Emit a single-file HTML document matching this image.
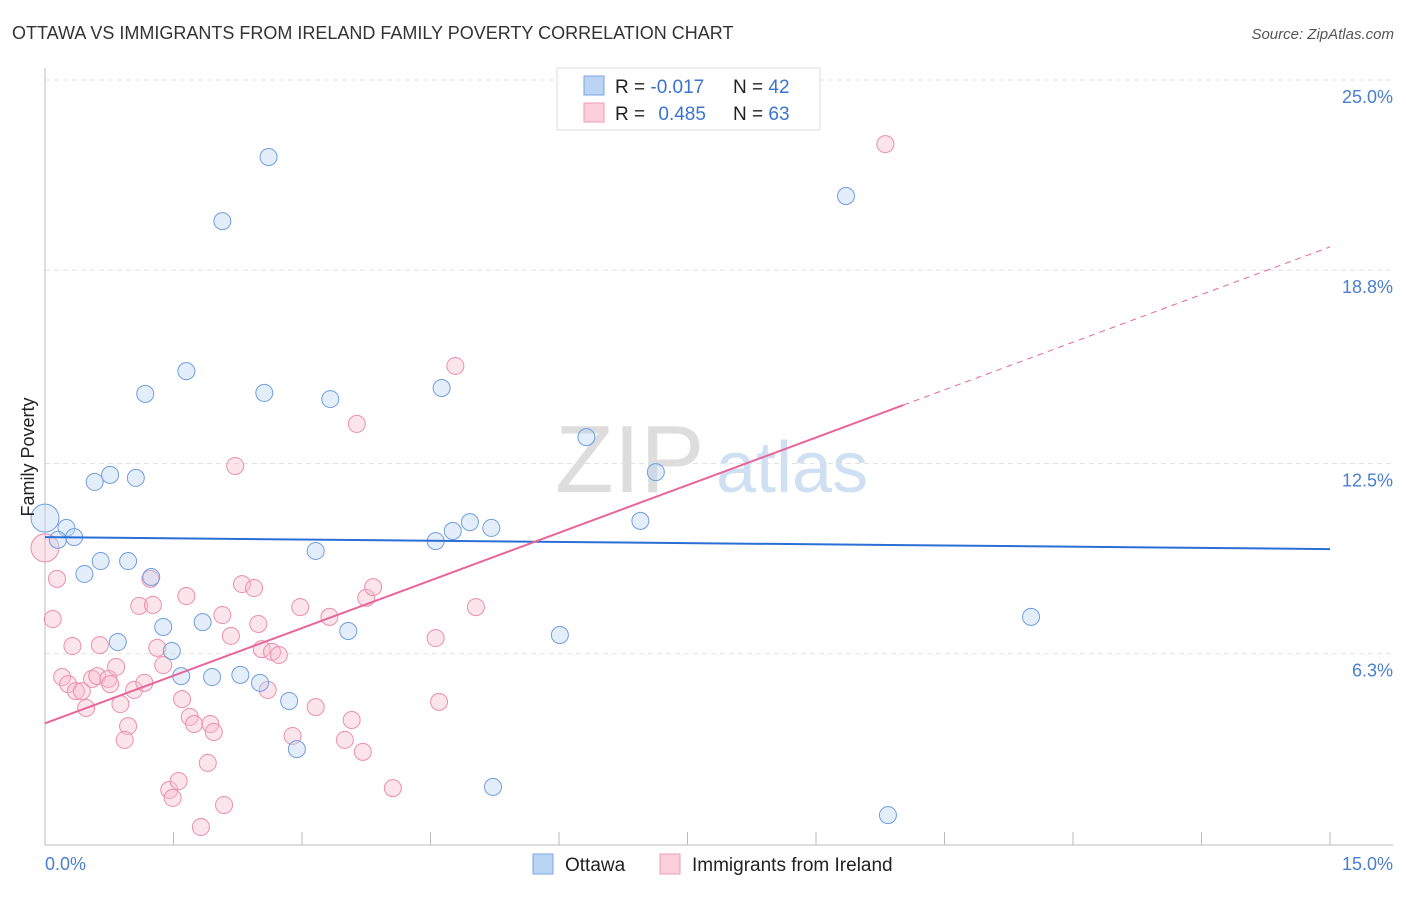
<!DOCTYPE html>
<html><head><meta charset="utf-8"><style>
body{margin:0;background:#fff;font-family:"Liberation Sans",sans-serif}
svg text{font-family:"Liberation Sans",sans-serif}
</style></head><body>
<svg width="1406" height="892" viewBox="0 0 1406 892">
<text x="12" y="39" font-size="18" fill="#333">OTTAWA VS IMMIGRANTS FROM IRELAND FAMILY POVERTY CORRELATION CHART</text>
<text x="1394" y="39" font-size="15" fill="#555" font-style="italic" text-anchor="end">Source: ZipAtlas.com</text>
<text x="555" y="492" font-size="96" fill="#ddd" font-family="Liberation Serif">ZIP</text>
<text x="716" y="492" font-size="72" fill="#cfe0f3">atlas</text>
<g id="grid"></g>
<g id="axes"></g>
<g id="marks"></g>
<text transform="translate(34,457) rotate(-90)" font-size="18" fill="#222" text-anchor="middle">Family Poverty</text>
<text x="45" y="870" font-size="18" fill="#4a7fd0">0.0%</text>
<text x="1393" y="870" font-size="18" fill="#4a7fd0" text-anchor="end">15.0%</text>
<g>
<rect x="557" y="68" width="263" height="62" fill="#fff" stroke="#ddd"/>
<rect x="584" y="76" width="20" height="19" fill="#bcd4f4" stroke="#7aa6e6"/>
<rect x="584" y="103" width="20" height="19" fill="#fbcfdc" stroke="#f09ab5"/>
<text x="615" y="93" font-size="19" fill="#222">R = <tspan fill="#3a74d0">-0.017</tspan></text>
<text x="733" y="93" font-size="19" fill="#222">N = <tspan fill="#3a74d0">42</tspan></text>
<text x="615" y="120" font-size="19" fill="#222">R = <tspan fill="#3a74d0" dx="8">0.485</tspan></text>
<text x="733" y="120" font-size="19" fill="#222">N = <tspan fill="#3a74d0">63</tspan></text>
</g>
<g>
<rect x="533" y="854" width="20" height="20" fill="#bcd4f4" stroke="#7aa6e6"/>
<text x="565" y="871" font-size="19" fill="#222">Ottawa</text>
<rect x="660" y="854" width="20" height="20" fill="#fbcfdc" stroke="#f09ab5"/>
<text x="692" y="871" font-size="19" fill="#222">Immigrants from Ireland</text>
</g>
</svg>
<script>
const yTicks=[25.0,18.8,12.5,6.3];
const yTickLabels=["25.0%","18.8%","12.5%","6.3%"];
const blueX=[0,0.25,0.15,0.34,0.58,0.76,1.06,1.17,1.65,2.07,2.61,2.56,3.33,4.63,6.32,7.13,9.35,0.46,0.65,0.97,1.24,1.38,1.48,0.85,1.59,1.84,1.95,2.28,2.51,2.85,2.94,3.16,3.54,4.56,4.76,4.96,5.21,6.01,6.95,11.51,9.84,5.23];
const blueY=[10.72,10.40,10.01,10.10,11.90,12.13,12.03,14.77,15.51,20.40,22.49,14.80,14.60,14.96,13.36,12.22,21.22,8.90,9.32,9.32,8.80,7.17,6.39,6.68,5.57,7.33,5.54,5.61,5.35,4.76,3.19,9.65,7.04,9.97,10.30,10.59,10.40,6.91,10.63,7.50,1.04,1.96];
const pinkX=[0,0.14,0.09,0.32,0.20,0.27,0.36,0.43,0.48,0.55,0.61,0.64,0.74,0.76,0.83,0.88,0.97,0.93,1.04,1.10,1.16,1.23,1.26,1.31,1.38,1.60,1.65,1.69,1.74,1.45,1.49,1.56,1.82,1.90,1.93,1.97,2.07,2.09,2.17,2.22,2.30,2.44,2.49,2.53,2.60,2.65,2.73,2.89,2.98,3.16,3.32,3.50,3.58,3.64,3.71,3.75,3.83,4.06,4.56,4.60,4.79,5.03,9.81];
const pinkY=[9.75,8.74,7.43,6.55,5.54,5.31,5.08,5.08,4.53,5.48,5.57,6.58,5.48,5.31,5.87,4.66,3.94,3.49,5.12,7.86,5.35,8.74,7.89,6.49,5.93,4.82,8.18,4.24,4.01,1.86,1.60,2.15,0.65,2.74,4.01,3.75,7.56,1.37,6.88,12.42,8.57,8.44,7.27,6.45,5.12,6.36,6.26,3.62,7.82,4.56,7.50,3.49,4.14,13.79,3.10,8.12,8.47,1.92,6.81,4.73,15.68,7.82,22.91];
const blueTrend=[10.10,9.71];
const pinkTrend=[4.03,19.56];
const pinkSolidEnd=10.02;
const NS='http://www.w3.org/2000/svg';
const sx=v=>45+v*1285/15;
const sy=v=>847-v*30.68;
function mk(t,a,p){const e=document.createElementNS(NS,t);for(const k in a)e.setAttribute(k,a[k]);p.appendChild(e);return e;}
const grid=document.getElementById('grid'),axes=document.getElementById('axes'),marks=document.getElementById('marks');
yTicks.forEach((v,i)=>{
 const l=mk('line',{x1:45,x2:1393,y1:sy(v),y2:sy(v),stroke:'#e2e2e2','stroke-dasharray':'5,4'},grid);
 
 
 const t=mk('text',{x:1393,y:sy(v)+23,'font-size':18,fill:'#4a7fd0','text-anchor':'end'},grid);
 t.textContent=yTickLabels[i];
 
 
});
const ax=mk('line',{x1:45,x2:45,y1:68,y2:845,stroke:'#bbb'},axes);


const bx=mk('line',{x1:45,x2:1393,y1:845,y2:845,stroke:'#bbb'},axes);


for(let i=0;i<=10;i++){const v=i*1.5;const t=mk('line',{x1:sx(v),x2:sx(v),y1:832,y2:845,stroke:'#bbb'},axes);
 
 }
function dots(X,Y,fill,stroke,name){X.forEach((x,i)=>{const r=(x===0)?14:8.5;
 const c=mk('circle',{cx:sx(x),cy:sy(Y[i]),r:r,fill:fill,stroke:stroke,'stroke-width':1,'fill-opacity':0.4},marks);
 
 });}
dots(pinkX,pinkY,'#f8bccd','#ec8fad','ireland-point');
dots(blueX,blueY,'#bcd4f4','#6f9ee0','ottawa-point');
const bl=mk('line',{x1:sx(0),y1:sy(blueTrend[0]),x2:sx(15),y2:sy(blueTrend[1]),stroke:'#2a6fd6','stroke-width':2},marks);


const pe=pinkTrend[0]+(pinkTrend[1]-pinkTrend[0])*pinkSolidEnd/15;
const pl=mk('line',{x1:sx(0),y1:sy(pinkTrend[0]),x2:sx(pinkSolidEnd),y2:sy(pe),stroke:'#e8659a','stroke-width':2},marks);


const pd=mk('line',{x1:sx(pinkSolidEnd),y1:sy(pe),x2:sx(15),y2:sy(pinkTrend[1]),stroke:'#e8659a','stroke-width':1,'stroke-dasharray':'6,5'},marks);


</script>
</body></html>
